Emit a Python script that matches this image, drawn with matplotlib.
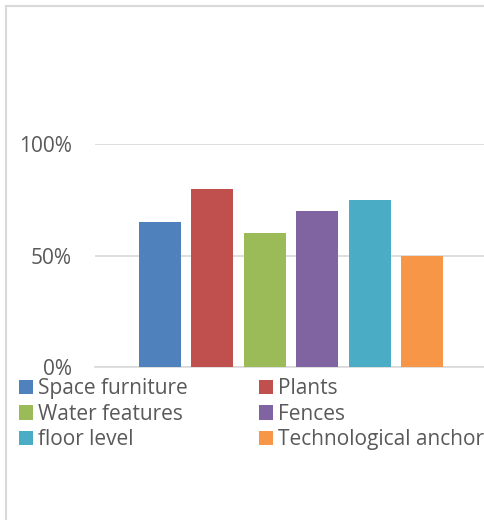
import matplotlib
matplotlib.use("Agg")
import matplotlib.pyplot as plt
from matplotlib.patches import Rectangle

series = ["Space furniture", "Plants", "Water features", "Fences",
          "floor level", "Technological anchor"]
values = [65, 80, 60, 70, 75, 50]
colors = ["#4F81BD", "#C0504D", "#9BBB59", "#8064A2", "#4BACC6", "#F79646"]
yticks = [0, 50, 100]
ytick_labels = ["0%", "50%", "100%"]

plt.rcParams['font.family'] = ['Open Sans', 'DejaVu Sans']
W, H = 485, 520
fig = plt.figure(figsize=(W / 100, H / 100), dpi=100)

# chart border (light gray), cut at right/bottom like reference
fig.patches.append(Rectangle((6.5 / W, -0.1), 2, (H - 6.5) / H + 0.1,
                             transform=fig.transFigure, fill=False,
                             edgecolor="#D9D9D9", linewidth=1.5))

ax_left, ax_right = 95, 487
ax_top, ax_bot = 144, 367
ax = fig.add_axes([ax_left / W, (H - ax_bot) / H,
                   (ax_right - ax_left) / W, (ax_bot - ax_top) / H])

unit = 52.4
x0 = 160
bars = []
for i, (s, v, c) in enumerate(zip(series, values, colors)):
    b = ax.bar(i, v, width=42 / unit, color=c, label=s, zorder=3)
    bars.append(b)

ax.set_xlim(-(x0 - ax_left) / unit, (ax_right - x0) / unit)
ax.set_ylim(0, 100)
ax.set_yticks(yticks)
ax.set_yticklabels(ytick_labels)
ax.set_xticks([])
ax.yaxis.grid(True, color="#D9D9D9", linewidth=1.2, zorder=0)
ax.set_axisbelow(True)
for sp in ["left", "right", "top"]:
    ax.spines[sp].set_visible(False)
ax.spines["bottom"].set_color("#D9D9D9")
ax.spines["bottom"].set_linewidth(1.2)
ax.tick_params(axis="y", length=0, pad=16.5, labelsize=15, labelcolor="#595959")
for lab in ax.get_yticklabels():
    lab.set_clip_on(False)

# row-major order like the reference (matplotlib fills legend columns first)
order = [0, 2, 4, 1, 3, 5]
leg = fig.legend(handles=[bars[i][0] for i in order],
                 labels=[series[i] for i in order], ncol=2,
                 loc="upper left", bbox_to_anchor=(15 / W, (H - 374) / H),
                 frameon=False, fontsize=15, labelcolor="#595959",
                 handlelength=0.67, handleheight=0.67, handletextpad=0.25,
                 labelspacing=0.22, columnspacing=3.4, borderpad=0.2,
                 borderaxespad=0)

fig.savefig("out.png", dpi=100, facecolor="white")
